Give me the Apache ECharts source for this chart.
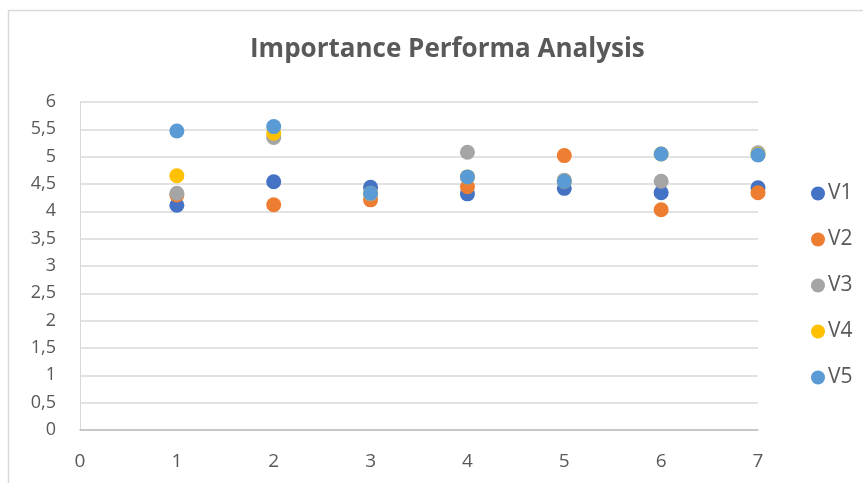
<!DOCTYPE html>
<html><head><meta charset="utf-8">
<script src="https://cdn.jsdelivr.net/npm/echarts@6/dist/echarts.min.js"></script>
<style>html,body{margin:0;padding:0;background:#fff}#c{width:863px;height:483px}</style>
</head><body><div id="c"></div>
<script>
const xValues = [1, 2, 3, 4, 5, 6, 7];
const seriesNames = ['V1', 'V2', 'V3', 'V4', 'V5'];
const V1 = [4.11, 4.54, 4.44, 4.32, 4.42, 4.34, 4.43];
const V2 = [4.30, 4.12, 4.21, 4.45, 5.02, 4.03, 4.34];
const V3 = [4.33, 5.35, 4.32, 5.08, 4.57, 4.55, 5.07];
const V4 = [4.65, 5.43, 4.33, 4.63, 4.55, 5.05, 5.04];
const V5 = [5.47, 5.55, 4.33, 4.63, 4.55, 5.05, 5.03];
const colors = ['#4472C4', '#ED7D31', '#A5A5A5', '#FFC000', '#5B9BD5'];
const yTicks = ['0','0,5','1','1,5','2','2,5','3','3,5','4','4,5','5','5,5','6'];

const allData = [V1, V2, V3, V4, V5];
const font = "'Open Sans', 'Liberation Sans', sans-serif";
const chart = echarts.init(document.getElementById('c'));
chart.setOption({
  animation: false,
  backgroundColor: '#fff',
  title: {
    text: 'Importance Performa Analysis',
    left: 245, top: 32,
    textStyle: {fontFamily: font, fontSize: 26, fontWeight: 'bold', color: '#595959'}
  },
  grid: {left: 80, right: 105, top: 102, bottom: 53},
  legend: {
    orient: 'vertical', left: 806, top: 178, itemGap: 25,
    icon: 'circle', itemWidth: 14, itemHeight: 14,
    textStyle: {fontFamily: font, fontSize: 21, lineHeight: 21, color: '#595959', padding: [0,0,0,-2]},
    data: seriesNames
  },
  xAxis: {
    type: 'value', min: 0, max: 7, interval: 1,
    axisLine: {show: true, lineStyle: {color: '#bfbfbf', width: 1.5}},
    axisTick: {show: false},
    splitLine: {show: false},
    axisLabel: {fontFamily: font, fontSize: 19, color: '#595959', margin: 22}
  },
  yAxis: {
    type: 'value', min: 0, max: 6, interval: 0.5,
    axisLine: {show: true, lineStyle: {color: '#d9d9d9'}},
    axisTick: {show: false},
    splitLine: {lineStyle: {color: '#d9d9d9', width: 1.5}},
    axisLabel: {fontFamily: font, fontSize: 18, color: '#595959', margin: 24,
      formatter: v => yTicks[Math.round(v * 2)]}
  },
  series: seriesNames.map((n, i) => ({
    name: n, type: 'scatter', symbolSize: 15,
    itemStyle: {color: colors[i], opacity: 1},
    data: xValues.map((x, j) => [x, allData[i][j]])
  })),
  graphic: [{
    type: 'rect', shape: {x: 8.5, y: 10.5, width: 900, height: 500},
    style: {fill: 'none', stroke: '#d9d9d9', lineWidth: 1.5}, silent: true, z: -1
  }]
});
</script></body></html>
